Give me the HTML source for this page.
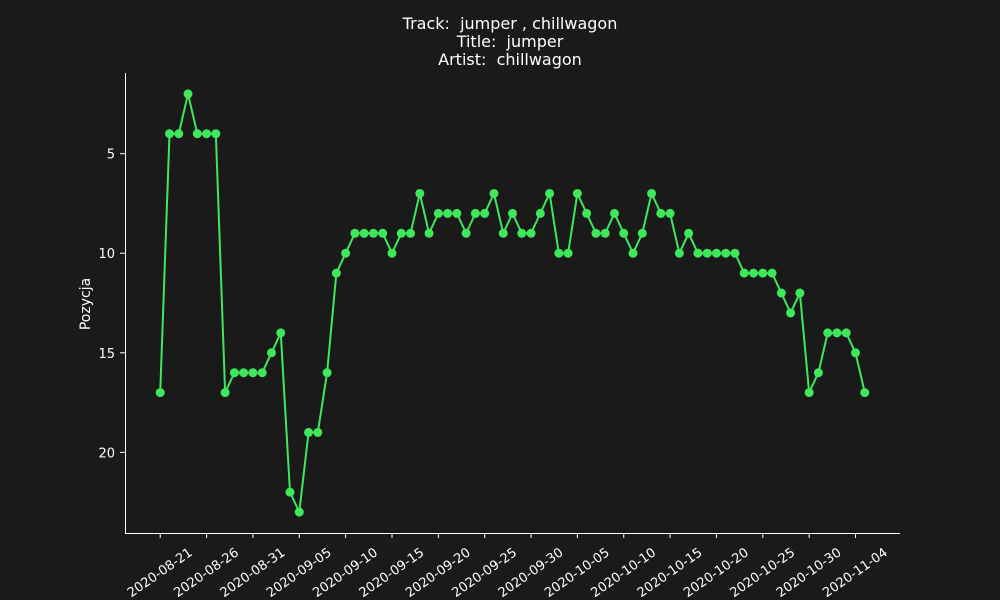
<!DOCTYPE html>
<html><head><meta charset="utf-8">
<style>
html,body{margin:0;padding:0;background:#1a1a1a;}
svg{display:block;font-family:"DejaVu Sans","Liberation Sans",sans-serif;}
.pre{white-space:pre;}
</style></head>
<body>
<svg id="chart" width="1000" height="600" xmlns="http://www.w3.org/2000/svg">
<rect width="1000" height="600" fill="#1a1a1a"/>
<g fill="#ffffff" font-size="16" text-anchor="middle">
<text class="pre" x="510" y="29">Track:  jumper , chillwagon</text>
<text class="pre" x="510" y="47">Title:  jumper</text>
<text class="pre" x="510" y="65">Artist:  chillwagon</text>
</g>
<text fill="#fff" font-size="14" text-anchor="middle" transform="translate(90,304) rotate(-90)">Pozycja</text>
<line x1="125.5" y1="73" x2="125.5" y2="534" stroke="#fff" stroke-width="1"/>
<line x1="125" y1="533.5" x2="900" y2="533.5" stroke="#fff" stroke-width="1"/>
<g id="ticks"></g>
<g id="series"></g>
</svg>
<script>
const startDate = "2020-08-21";
const positions = [17,4,4,2,4,4,4,17,16,16,16,16,15,14,22,23,19,19,16,11,10,9,9,9,9,10,9,9,7,9,8,8,8,9,8,8,7,9,8,9,9,8,7,10,10,7,8,9,9,8,9,10,9,7,8,8,10,9,10,10,10,10,10,11,11,11,11,12,13,12,17,16,14,14,14,15,17];
const xTickLabels = ["2020-08-21","2020-08-26","2020-08-31","2020-09-05","2020-09-10","2020-09-15","2020-09-20","2020-09-25","2020-09-30","2020-10-05","2020-10-10","2020-10-15","2020-10-20","2020-10-25","2020-10-30","2020-11-04"];
const yTickValues = [5,10,15,20];

const NS="http://www.w3.org/2000/svg";
const x0=125,x1=900,y0=73,y1=533;
const n=positions.length;
const dMin=-(n-1)*0.05,dMax=(n-1)*1.05;
let vMin=Math.min(...positions),vMax=Math.max(...positions);
const span=vMax-vMin;
const yLo=vMin-span*0.05,yHi=vMax+span*0.05;
function xs(d){return x0+(d-dMin)/(dMax-dMin)*(x1-x0);}
function ys(v){return y0+(v-yLo)/(yHi-yLo)*(y1-y0);}
function dayIndex(s){return Math.round((Date.parse(s)-Date.parse(startDate))/86400000);}
const ticks=document.getElementById('ticks');
xTickLabels.forEach(lab=>{
  const x=xs(dayIndex(lab));
  const l=document.createElementNS(NS,'line');
  
  
  l.setAttribute('x1',x);l.setAttribute('x2',x);l.setAttribute('y1',533);l.setAttribute('y2',538);
  l.setAttribute('stroke','#fff');ticks.appendChild(l);
  const t=document.createElementNS(NS,'text');
  
  
  t.setAttribute('fill','#fff');t.setAttribute('font-size','13');t.setAttribute('text-anchor','middle');
  t.setAttribute('transform','translate('+(x+2)+',576) rotate(-35)');
  t.textContent=lab;ticks.appendChild(t);
});
yTickValues.forEach(v=>{
  const y=ys(v);
  const l=document.createElementNS(NS,'line');
  
  
  l.setAttribute('x1',120);l.setAttribute('x2',125);l.setAttribute('y1',y);l.setAttribute('y2',y);
  l.setAttribute('stroke','#fff');ticks.appendChild(l);
  const t=document.createElementNS(NS,'text');
  
  
  t.setAttribute('fill','#fff');t.setAttribute('font-size','13');t.setAttribute('text-anchor','end');
  t.setAttribute('x',115);t.setAttribute('y',y+5);
  t.textContent=v;ticks.appendChild(t);
});
const g=document.getElementById('series');
const pl=document.createElementNS(NS,'polyline');


pl.setAttribute('points',positions.map((v,i)=>xs(i)+','+ys(v)).join(' '));
pl.setAttribute('fill','none');pl.setAttribute('stroke','#3ee85a');pl.setAttribute('stroke-width','2');
g.appendChild(pl);
positions.forEach((v,i)=>{
  const c=document.createElementNS(NS,'circle');
  
  
  c.setAttribute('cx',xs(i));c.setAttribute('cy',ys(v));c.setAttribute('r',4.5);
  c.setAttribute('fill','#3ee85a');g.appendChild(c);
});
</script>
</body></html>
